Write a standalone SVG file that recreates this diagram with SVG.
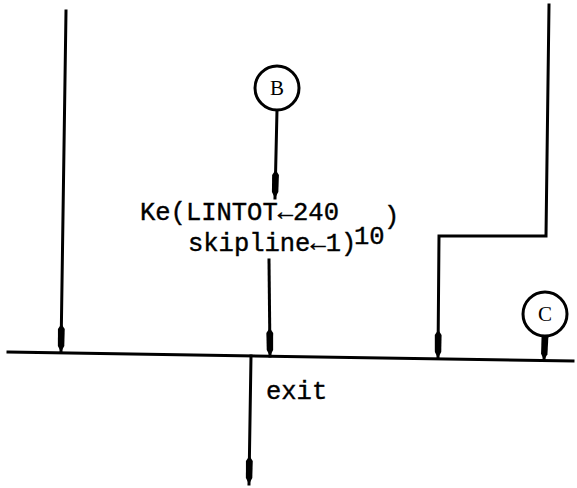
<svg xmlns="http://www.w3.org/2000/svg" width="577" height="488" viewBox="0 0 577 488">
<style>
.ln{fill:none;stroke:#000;stroke-width:3;stroke-linecap:square;}
.cir{fill:#fff;stroke:#000;stroke-width:3;}
.t{font-family:"Liberation Mono","Courier New",monospace;font-size:25.5px;fill:#000;stroke:#000;stroke-width:0.4;}
.lbl{font-family:"Liberation Serif","Times New Roman",serif;font-size:21px;fill:#000;text-anchor:middle;}
</style>
<defs>
<marker id="ah" markerUnits="userSpaceOnUse" markerWidth="30" markerHeight="12" refX="28" refY="6" orient="auto">
<path d="M0,6 L5,2.6 L22,2.8 L28,6 L22,9.2 L5,9.4 Z" fill="#000"/>
</marker>
</defs>
<rect width="577" height="488" fill="#fff"/>
<g id="connectors">
<line class="ln" x1="8" y1="352" x2="573" y2="361"/>
<line class="ln" x1="66" y1="11" x2="61" y2="352" marker-end="url(#ah)"/>
<polyline class="ln" points="549,5 546,236 439,236 438,358" marker-end="url(#ah)"/>
<line class="ln" x1="277" y1="110" x2="275" y2="198" marker-end="url(#ah)"/>
<line class="ln" x1="269" y1="260" x2="270" y2="356" marker-end="url(#ah)"/>
<line class="ln" x1="251" y1="356" x2="249" y2="484" marker-end="url(#ah)"/>
<line class="ln" x1="545" y1="336" x2="544" y2="360" marker-end="url(#ah)"/>
</g>
<g id="node-B">
<circle class="cir" cx="277" cy="88" r="22"/>
<text class="lbl" x="277" y="95">B</text>
</g>
<g id="node-C">
<circle class="cir" cx="545" cy="314" r="22"/>
<text class="lbl" x="545" y="321">C</text>
</g>
<g id="node-text">
<text class="t" x="140" y="220">Ke(LINTOT←240</text>
<text class="t" x="354" y="244">10</text>
<text class="t" x="384" y="224">)</text>
<text class="t" x="188" y="251">skipline←1)</text>
</g>
<g id="exit-label">
<text class="t" x="266" y="399">exit</text>
</g>
</svg>
